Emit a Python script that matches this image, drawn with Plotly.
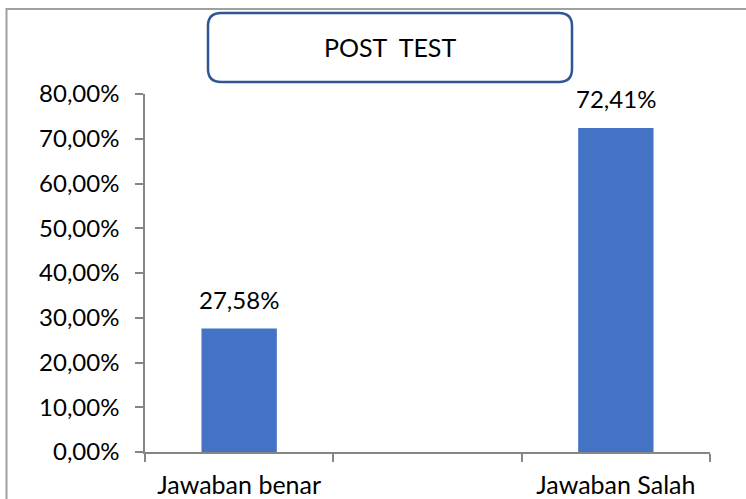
import plotly.graph_objects as go

categories = ["Jawaban benar", " ", "Jawaban Salah"]
values = [0.2758, None, 0.7241]
title_text = "POST  TEST"

W, H = 746, 499
L, R, T, B = 145, 710, 94, 452  # plot area in pixels

def px(x):
    return (x - L) / (R - L)

def py(y):
    return (B - y) / (B - T)

FONT = "Lato"
FS = 24

fig = go.Figure()
fig.add_trace(go.Bar(
    x=categories, y=values, width=0.4,
    marker=dict(color="#4472C4", line=dict(width=0)),
    hoverinfo="skip",
))

# rounded title box
x0, x1, y0, y1 = px(208), px(572), py(82), py(13)
rx, ry = 13 / (R - L), 13 / (B - T)
path = (f"M {x0+rx},{y0} L {x1-rx},{y0} Q {x1},{y0} {x1},{y0+ry} "
        f"L {x1},{y1-ry} Q {x1},{y1} {x1-rx},{y1} L {x0+rx},{y1} "
        f"Q {x0},{y1} {x0},{y1-ry} L {x0},{y0+ry} Q {x0},{y0} {x0+rx},{y0} Z")

annotations = [
    dict(text=title_text, xref="paper", yref="paper",
         x=px(390), y=py(47), showarrow=False,
         xanchor="center", yanchor="middle",
         font=dict(family=FONT, size=25, color="#000000")),
]
for c, v in zip(categories, values):
    if v is None:
        continue
    annotations.append(dict(
        x=c, y=v, xref="x", yref="y", showarrow=False,
        text=f"{v*100:.2f}%".replace(".", ","),
        yshift=29, xanchor="center", yanchor="middle",
        font=dict(family=FONT, size=FS, color="#000000"),
    ))

fig.update_layout(
    template="none",
    width=W, height=H, autosize=False,
    margin=dict(l=L, r=W - R, t=T, b=H - B, pad=0),
    paper_bgcolor="white", plot_bgcolor="white",
    separators=",.",
    showlegend=False,
    bargap=0.6,
    font=dict(family=FONT, color="#000000"),
    xaxis=dict(
        type="category", tickson="boundaries", ticks="outside", ticklen=8,
        tickcolor="#868686", tickwidth=1.5, automargin=False,
        showline=True, linecolor="#868686", linewidth=1.5,
        showgrid=False, zeroline=False,
        tickfont=dict(family=FONT, size=25, color="#000000"),
        ticklabelstandoff=10,
    ),
    yaxis=dict(
        range=[0, 0.8], dtick=0.1, tickformat=".2%", automargin=False,
        ticks="outside", ticklen=8, tickcolor="#868686", tickwidth=1.5,
        showline=True, linecolor="#868686", linewidth=1.5,
        showgrid=False, zeroline=False,
        tickfont=dict(family=FONT, size=FS, color="#000000"),
        ticklabelstandoff=11,
    ),
    shapes=[
        dict(type="rect", xref="paper", yref="paper",
             x0=px(6.5), x1=px(760), y0=py(520), y1=py(9),
             line=dict(color="#A0A0A0", width=2), fillcolor="rgba(0,0,0,0)"),
        dict(type="path", xref="paper", yref="paper", path=path,
             line=dict(color="#2F5597", width=2.5), fillcolor="white"),
    ],
    annotations=annotations,
)

fig.write_html("out.html",
               config=dict(displayModeBar=False, responsive=False),
               post_script="document.body.style.margin='0';document.body.style.overflow='hidden';")
